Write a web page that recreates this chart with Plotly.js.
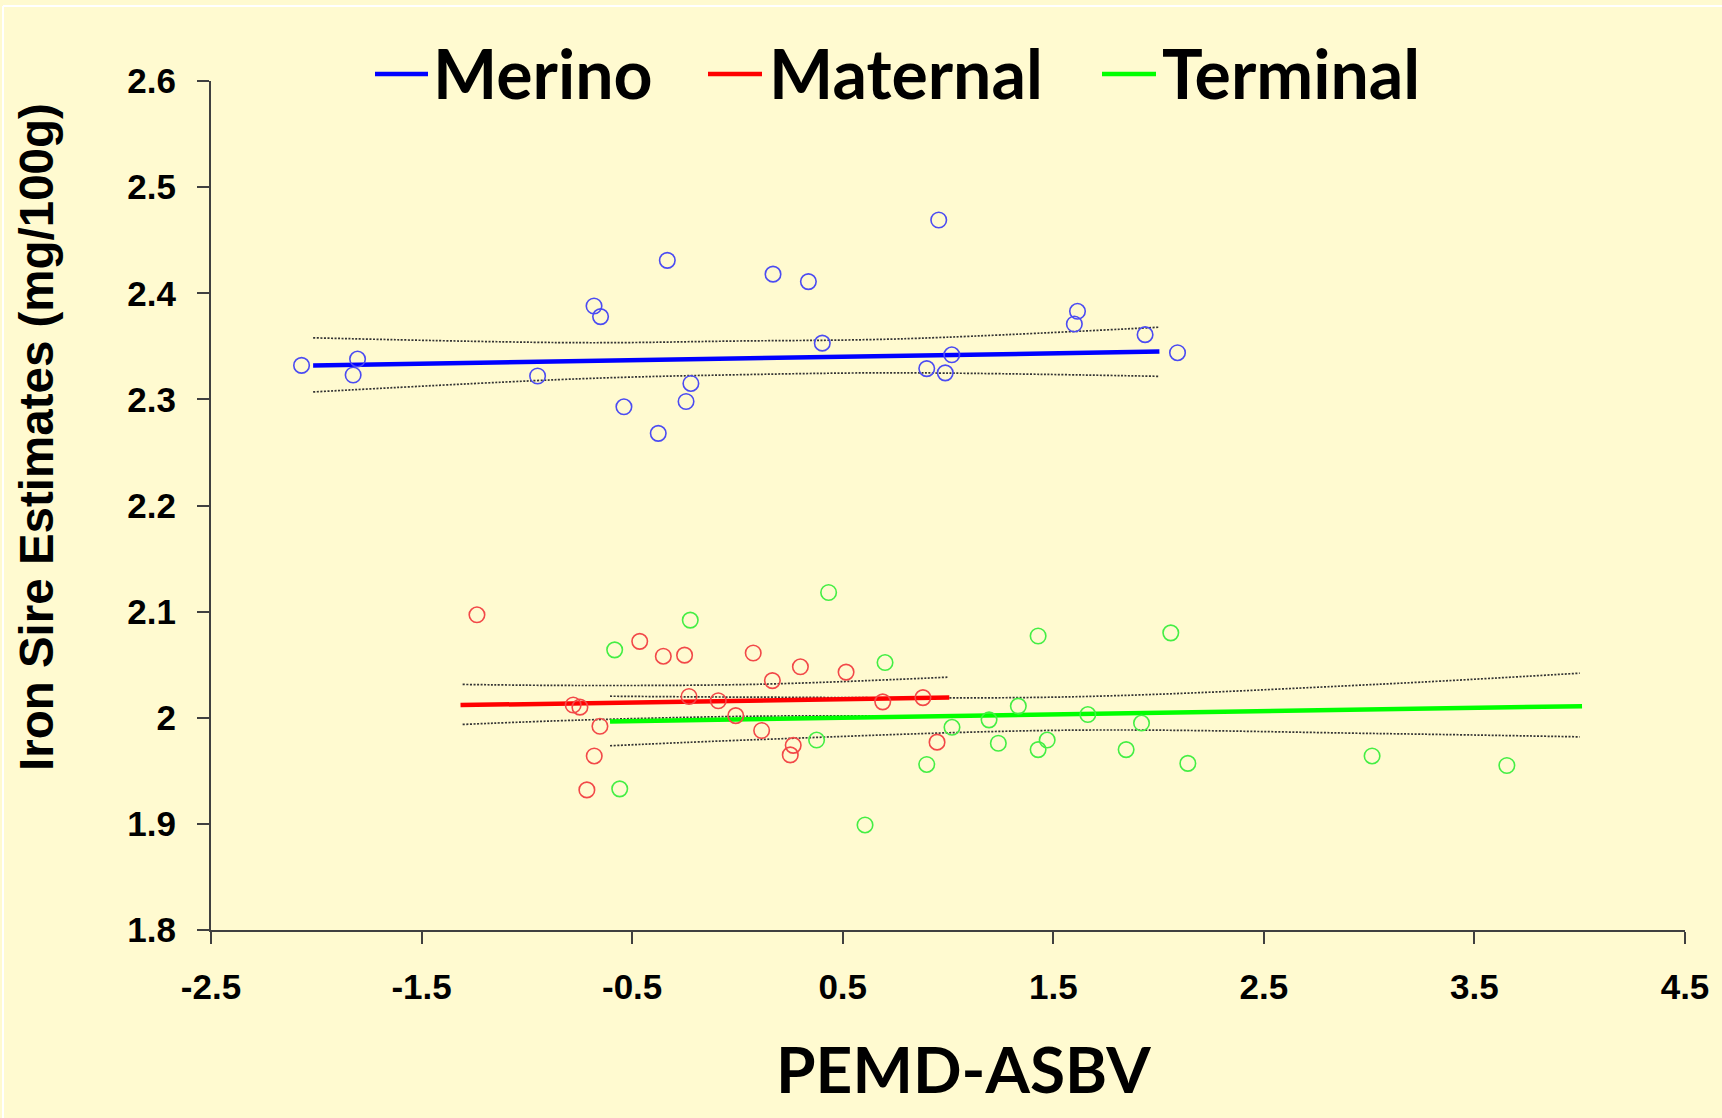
<!DOCTYPE html>
<html>
<head>
<meta charset="utf-8">
<script src="https://cdn.plot.ly/plotly-3.0.1.min.js"></script>
<style>
  html, body { margin: 0; padding: 0; background: #FFFAD0; }
  #chart { width: 1722px; height: 1118px; }
</style>
</head>
<body>
<div id="chart"></div>
<script>
// ---------- data ----------
const seriesNames = ['Merino', 'Maternal', 'Terminal'];

const merinoX = [-2.070, -1.804, -1.825, -0.949, -0.681, -0.650, -0.333, 0.169, 0.337, 0.403, -0.221,
                 -0.244, -0.539, -0.376, 0.956, 1.018, 0.899, 0.987, 1.615, 1.600, 1.936, 2.090];
const merinoY = [2.332, 2.338, 2.323, 2.322, 2.388, 2.378, 2.431, 2.418, 2.411, 2.353, 2.315,
                 2.298, 2.293, 2.268, 2.469, 2.342, 2.329, 2.325, 2.383, 2.371, 2.361, 2.344];

const maternalX = [-1.237, -0.464, -0.352, -0.251, 0.075, -0.780, -0.748, -0.653, -0.680, -0.715, -0.230,
                   -0.091, -0.008, 0.115, 0.166, 0.299, 0.516, 0.265, 0.251, 0.690, 0.881, 0.948];
const maternalY = [2.097, 2.072, 2.058, 2.059, 2.061, 2.012, 2.010, 1.992, 1.964, 1.932, 2.020,
                   2.016, 2.002, 1.988, 2.035, 2.048, 2.043, 1.974, 1.965, 2.015, 2.019, 1.977];

const terminalX = [-0.224, -0.583, -0.559, 0.433, 0.701, 0.376, 0.899, 0.606, 1.019, 1.195, 1.334,
                   1.239, 1.428, 1.428, 1.471, 2.058, 1.664, 1.919, 1.846, 2.139, 3.014, 3.654];
const terminalY = [2.092, 2.064, 1.933, 2.118, 2.052, 1.979, 1.956, 1.899, 1.991, 1.998, 2.011,
                   1.976, 2.077, 1.970, 1.979, 2.080, 2.003, 1.995, 1.970, 1.957, 1.964, 1.955];

// fitted regression lines (end points)
const merinoFitX = [-2.015, 2.004];
const merinoFitY = [2.332, 2.345];
const maternalFitX = [-1.315, 1.006];
const maternalFitY = [2.0119, 2.0191];
const terminalFitX = [-0.605, 4.011];
const terminalFitY = [1.9965, 2.0109];

// confidence bands
const merinoBandX = [-2.015, -0.75, 0.0, 0.77, 2.004];
const merinoBandUp = [2.358, 2.3534, 2.3550, 2.357, 2.368];
const merinoBandLo = [2.307, 2.3194, 2.3232, 2.325, 2.3217];
const maternalBandX = [-1.305, -0.748, 0.107, 0.997];
const maternalBandUp = [2.0314, 2.0304, 2.0316, 2.0382];
const maternalBandLo = [1.9937, 1.9978, 2.0015, 2.0015];
const terminalBandX = [-0.605, 0.107, 1.58, 3.05, 4.0];
const terminalBandUp = [2.0203, 2.0194, 2.0197, 2.0316, 2.042];
const terminalBandLo = [1.9736, 1.9795, 1.9883, 1.9851, 1.9820];

// axes
const xTickVals = [-2.5, -1.5, -0.5, 0.5, 1.5, 2.5, 3.5, 4.5];
const xTickText = ['-2.5', '-1.5', '-0.5', '0.5', '1.5', '2.5', '3.5', '4.5'];
const yTickVals = [1.8, 1.9, 2.0, 2.1, 2.2, 2.3, 2.4, 2.5, 2.6];
const yTickText = ['1.8', '1.9', '2', '2.1', '2.2', '2.3', '2.4', '2.5', '2.6'];
const xTitle = 'PEMD-ASBV';
const yTitle = 'Iron Sire Estimates (mg/100g)';

// ---------- styling ----------
const lineColors = ['#0000FF', '#FF0000', '#00FF00'];
const markerColors = ['#4B4BF2', '#F24848', '#44EE44'];
const bandStyle = {color: '#333333', width: 1.7, dash: '2px,1.5px', shape: 'spline'};
const BG = '#FFFAD0';
const AXC = '#404040';

const groups = [
  {x: merinoX, y: merinoY, fx: merinoFitX, fy: merinoFitY, bx: merinoBandX, bu: merinoBandUp, bl: merinoBandLo},
  {x: maternalX, y: maternalY, fx: maternalFitX, fy: maternalFitY, bx: maternalBandX, bu: maternalBandUp, bl: maternalBandLo},
  {x: terminalX, y: terminalY, fx: terminalFitX, fy: terminalFitY, bx: terminalBandX, bu: terminalBandUp, bl: terminalBandLo}
];

const traces = [];
groups.forEach((g, i) => {
  traces.push({x: g.bx, y: g.bu, mode: 'lines', line: bandStyle, hoverinfo: 'skip', showlegend: false});
  traces.push({x: g.bx, y: g.bl, mode: 'lines', line: bandStyle, hoverinfo: 'skip', showlegend: false});
});
groups.forEach((g, i) => {
  traces.push({x: g.fx, y: g.fy, mode: 'lines', name: seriesNames[i],
               line: {color: lineColors[i], width: 4.5}, showlegend: false});
});
groups.forEach((g, i) => {
  traces.push({x: g.x, y: g.y, mode: 'markers', name: seriesNames[i] + ' sires',
               marker: {symbol: 'circle-open', size: 15.5, color: markerColors[i], line: {width: 1.6, color: markerColors[i]}},
               showlegend: false});
});

// plot-area geometry in pixels (for paper-coordinate placement of legend/titles)
const L = 211, R = 37, T = 81, B = 188, W = 1722, H = 1118;
const PW = W - L - R, PH = H - T - B;
const px = X => (X - L) / PW;
const py = Y => (H - B - Y) / PH;

const legendFont = {family: 'Lato, "Open Sans", sans-serif', size: 68, color: '#000', weight: 700};
const legendTextX = [431, 767, 1160];
const legendLineX = [[375, 428], [708, 762], [1102, 1156]];
const legendY = 73;

const annotations = seriesNames.map((n, i) => ({
  text: n, xref: 'paper', yref: 'paper', x: px(legendTextX[i]), y: py(legendY),
  xanchor: 'left', yanchor: 'middle', showarrow: false, font: legendFont
}));
annotations.push({
  text: xTitle, xref: 'paper', yref: 'paper', x: px(964), y: py(1068),
  xanchor: 'center', yanchor: 'middle', showarrow: false,
  font: {family: 'Lato, "Open Sans", sans-serif', size: 64, color: '#000', weight: 700}
});
annotations.push({
  text: yTitle, xref: 'paper', yref: 'paper', x: px(36), y: py(437), textangle: -90,
  xanchor: 'center', yanchor: 'middle', showarrow: false,
  font: {family: '"Liberation Sans", Arial, sans-serif', size: 47.5, color: '#000', weight: 700}
});

const shapes = seriesNames.map((n, i) => ({
  type: 'line', xref: 'paper', yref: 'paper',
  x0: px(legendLineX[i][0]), x1: px(legendLineX[i][1]), y0: py(legendY + 1), y1: py(legendY + 1),
  line: {color: lineColors[i], width: 4.5}
}));
// thin white frame lines along the top and left edges of the picture
shapes.push({type: 'line', xref: 'paper', yref: 'paper', x0: px(3), x1: px(W), y0: py(6), y1: py(6),
             line: {color: '#FFFFFF', width: 2}});
shapes.push({type: 'line', xref: 'paper', yref: 'paper', x0: px(3), x1: px(3), y0: py(6), y1: py(H),
             line: {color: '#FFFFFF', width: 2}});

const tickFont = {family: '"Liberation Sans", Arial, sans-serif', size: 35, color: '#000', weight: 700};

const layout = {
  width: W, height: H,
  margin: {l: L, r: R, t: T, b: B, pad: 0},
  paper_bgcolor: BG, plot_bgcolor: BG,
  showlegend: false,
  xaxis: {
    range: [-2.5, 4.5], tickmode: 'array', tickvals: xTickVals, ticktext: xTickText,
    showline: true, linecolor: AXC, linewidth: 2, ticks: 'outside', ticklen: 12, tickwidth: 2, tickcolor: AXC,
    showgrid: false, zeroline: false, tickfont: tickFont, ticklabelstandoff: 13
  },
  yaxis: {
    range: [1.8, 2.6], tickmode: 'array', tickvals: yTickVals, ticktext: yTickText,
    showline: true, linecolor: AXC, linewidth: 2, ticks: 'outside', ticklen: 12, tickwidth: 2, tickcolor: AXC,
    showgrid: false, zeroline: false, tickfont: tickFont, ticklabelstandoff: 14
  },
  annotations: annotations,
  shapes: shapes
};

Plotly.newPlot('chart', traces, layout, {displayModeBar: false, staticPlot: true});
</script>
</body>
</html>
